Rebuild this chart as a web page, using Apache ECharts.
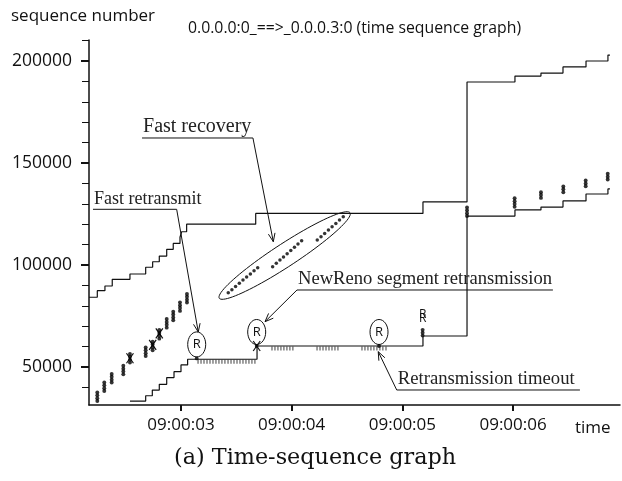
<!DOCTYPE html>
<html>
<head>
<meta charset="utf-8">
<script src="https://cdn.jsdelivr.net/npm/echarts@6/dist/echarts.min.js"></script>
<style>
  html, body { margin: 0; padding: 0; background: #fff; }
  #chart { width: 622px; height: 481px; }
</style>
</head>
<body>
<div id="chart"></div>
<script>
// Times are seconds after 09:00:00, sequence numbers in bytes.

// Advertised window edge (upper staircase)
const winTimes = [2.169, 2.244, 2.313, 2.379, 2.539, 2.681, 2.744, 2.804, 2.871, 2.930, 2.991, 3.006, 3.051, 3.675, 5.186, 5.584, 6.017, 6.252, 6.451, 6.659, 6.857, 6.875];
const winSeqs  = [84200, 87400, 89700, 93000, 95600, 98900, 101600, 104400, 107700, 110600, 113600, 116300, 120000, 125300, 130900, 189700, 192600, 194100, 197100, 200000, 202900, 202900];

// Cumulative ACK line (lower staircase)
const ackTimes = [2.539, 2.681, 2.741, 2.804, 2.871, 2.937, 3.000, 3.060, 3.687, 5.186, 5.584, 6.017, 6.252, 6.451, 6.659, 6.857, 6.875];
const ackSeqs  = [33300, 35900, 38700, 41500, 44800, 47700, 51000, 53800, 60300, 65200, 124000, 127000, 128400, 131400, 134800, 137300, 137300];

// Duplicate ACKs (tick marks under the ACK line)
const dupAckTimes = [3.154, 3.181, 3.208, 3.235, 3.262, 3.289, 3.316, 3.343, 3.370, 3.397, 3.425, 3.452, 3.479, 3.506, 3.533, 3.560, 3.587, 3.614, 3.641, 3.668,
                     3.822, 3.849, 3.876, 3.903, 3.930, 3.957, 3.984, 4.011,
                     4.229, 4.256, 4.283, 4.310, 4.337, 4.364, 4.391, 4.418,
                     4.635, 4.662, 4.689, 4.716, 4.743, 4.770, 4.797, 4.824, 4.852];
const dupAckSeqs  = [53800, 53800, 53800, 53800, 53800, 53800, 53800, 53800, 53800, 53800, 53800, 53800, 53800, 53800, 53800, 53800, 53800, 53800, 53800, 53800,
                     60300, 60300, 60300, 60300, 60300, 60300, 60300, 60300,
                     60300, 60300, 60300, 60300, 60300, 60300, 60300, 60300,
                     60300, 60300, 60300, 60300, 60300, 60300, 60300, 60300, 60300];

// Data segments sent (bursts)
const sentTimes = [2.244, 2.244, 2.244, 2.244,  2.307, 2.307, 2.307, 2.307,  2.374, 2.374, 2.374, 2.374,
                   2.479, 2.479, 2.479, 2.479,  2.539, 2.539, 2.539, 2.539,  2.681, 2.681, 2.681, 2.681,
                   2.744, 2.744, 2.744, 2.744,  2.804, 2.804, 2.804, 2.804,  2.871, 2.871, 2.871, 2.871,
                   2.930, 2.930, 2.930, 2.930,  2.991, 2.991, 2.991, 2.991,  3.054, 3.054, 3.054, 3.054,
                   5.183, 5.183, 5.183,
                   5.584, 5.584, 5.584, 5.584,  6.014, 6.014, 6.014, 6.014,
                   6.252, 6.252, 6.252,  6.454, 6.454, 6.454,  6.656, 6.656, 6.656,  6.855, 6.855, 6.855];
const sentSeqs  = [33300, 34700, 36100, 37500,  38200, 39600, 41000, 42400,  42400, 43800, 45200, 46600,
                   46400, 47800, 49200, 50600,  52200, 53600, 55000, 56400,  55400, 56800, 58200, 59600,
                   58200, 59600, 61000, 62400,  63900, 65300, 66700, 68100,  69300, 70700, 72100, 73500,
                   72900, 74300, 75700, 77100,  77500, 78900, 80300, 81700,  81600, 83000, 84400, 85800,
                   65400, 66800, 68200,
                   124000, 125400, 126800, 128200,  128500, 129900, 131300, 132700,
                   132900, 134300, 135700,  135700, 137100, 138500,  138600, 140000, 141400,  141900, 143300, 144700];

// New segments sent during fast recovery
const recoveryTimes = [3.427, 3.460, 3.493, 3.527, 3.560, 3.593, 3.627, 3.660, 3.693,
                       3.828, 3.861, 3.894, 3.926, 3.959, 3.992, 4.025, 4.057, 4.090,
                       4.231, 4.265, 4.298, 4.332, 4.365, 4.399, 4.432, 4.466];
const recoverySeqs  = [86400, 87900, 89500, 91000, 92600, 94100, 95600, 97200, 98700,
                       99200, 100800, 102400, 103900, 105500, 107100, 108700, 110300, 111900,
                       112300, 113900, 115500, 117200, 118800, 120400, 122100, 123700];
// Long axis of the ring drawn round the fast-recovery segments
const recoveryRing = [[3.346, 83700], [4.527, 125600]];

// Retransmitted segments marked with a ringed "R"
const retxTimes = [3.142, 3.684, 4.789];
const retxSeqs  = [54200, 60300, 60300];
// Two retransmissions of the same segment (double "R", no ring)
const retxPairTime = 5.183;
const retxPairSeq  = 66800;

// Cross marks
const crossTimes = [2.539, 2.744, 2.804, 3.684];
const crossSeqs  = [54300, 60800, 66500, 60300];

// Callouts: text, far end of underline, elbow, arrow tip
const noteTexts = ['Fast recovery', 'Fast retransmit', 'NewReno segment retransmission', 'Retransmission timeout'];
const noteEnds   = [[2.648, 162260], [2.205, 127300], [6.360, 87750], [6.604, 38730]];
const noteElbows = [[3.650, 162260], [2.961, 127300], [4.048, 87750], [4.949, 38730]];
const noteTips   = [[3.834, 111420], [3.156, 67160], [3.759, 72210], [4.782, 57500]];
const noteFontSizes = [20, 18, 18.6, 18.7];

// Axis ticks
const timeTicks = [3, 4, 5, 6];
const seqLabelTicks = [50000, 100000, 150000, 200000];
const seqMinorTicks = [40000, 50000, 60000, 70000, 80000, 90000, 100000, 110000, 120000, 130000, 140000, 150000, 160000, 170000, 180000, 190000, 200000, 210000];

const INK = '#111';
const DOT = '#000';
const SERIF = '"Liberation Serif", "Times New Roman", serif';
const SANS = '"Open Sans", "DejaVu Sans", sans-serif';

const pairs = (xs, ys) => xs.map((x, i) => [x, ys[i]]);

function arrowHead(tip, from, len, ang) {
  const dx = from[0] - tip[0], dy = from[1] - tip[1];
  const d = Math.hypot(dx, dy) || 1;
  const ux = dx / d, uy = dy / d;
  const rot = (a) => [ux * Math.cos(a) - uy * Math.sin(a), ux * Math.sin(a) + uy * Math.cos(a)];
  const l = rot(ang), r = rot(-ang);
  return [[tip[0] + l[0] * len, tip[1] + l[1] * len], tip, [tip[0] + r[0] * len, tip[1] + r[1] * len]];
}

const chart = echarts.init(document.getElementById('chart'), null, { renderer: 'canvas' });

const option = {
  animation: false,
  backgroundColor: '#fff',
  grid: { left: 89, top: 40, right: 2, bottom: 76, containLabel: false },
  xAxis: {
    type: 'value', min: 2.169, max: 6.966,
    axisLine: { lineStyle: { color: INK, width: 1.5 } },
    axisTick: { customValues: timeTicks, length: 6, lineStyle: { color: INK, width: 2 } },
    axisLabel: { customValues: timeTicks, color: INK, fontFamily: SANS, fontSize: 17, margin: 12,
                 formatter: (v) => '09:00:0' + Math.round(v) },
    splitLine: { show: false }
  },
  yAxis: [
    {
      type: 'value', min: 31370, max: 210300,
      axisLine: { lineStyle: { color: INK, width: 1.5 } },
      axisTick: { customValues: seqMinorTicks, length: 7, lineStyle: { color: INK, width: 1 } },
      axisLabel: { show: false },
      splitLine: { show: false }
    },
    {
      type: 'value', min: 31370, max: 210300, position: 'left', offset: 0,
      axisLine: { show: false },
      axisTick: { customValues: seqLabelTicks, length: 8, lineStyle: { color: INK, width: 2 } },
      axisLabel: { customValues: seqLabelTicks, color: INK, fontFamily: SANS, fontSize: 17.5, margin: 17,
                   formatter: (v) => String(Math.round(v)) },
      splitLine: { show: false }
    }
  ],
  graphic: [
    { type: 'text', left: 11, top: 8, style: { text: 'sequence number', font: '17px ' + SANS, fill: INK } },
    { type: 'text', left: 188, top: 20, style: { text: '0.0.0.0:0_==>_0.0.0.3:0 (time sequence graph)', font: '15.8px ' + SANS, fill: INK } },
    { type: 'text', left: 575, top: 420, style: { text: 'time', font: '17px ' + SANS, fill: INK } },
    { type: 'text', left: 174, top: 447, style: { text: '(a) Time-sequence graph', font: '22.3px "DejaVu Serif", serif', fill: INK } }
  ],
  series: [
    {
      name: 'window', type: 'line', step: 'end', data: pairs(winTimes, winSeqs),
      symbol: 'none', lineStyle: { color: INK, width: 1.2 }, silent: true
    },
    {
      name: 'ack', type: 'line', step: 'end', data: pairs(ackTimes, ackSeqs),
      symbol: 'none', lineStyle: { color: INK, width: 1.2 }, silent: true
    },
    {
      name: 'dupack', type: 'scatter', data: pairs(dupAckTimes, dupAckSeqs),
      symbol: 'rect', symbolSize: [1, 4], symbolOffset: [0, 2.5],
      itemStyle: { color: INK }, silent: true
    },
    {
      name: 'sent', type: 'scatter', data: pairs(sentTimes, sentSeqs),
      symbol: 'circle', symbolSize: 3.9, itemStyle: { color: DOT }, silent: true
    },
    {
      name: 'recovery', type: 'scatter', data: pairs(recoveryTimes, recoverySeqs),
      symbol: 'circle', symbolSize: 3.5, itemStyle: { color: DOT }, silent: true
    },
    {
      name: 'retx', type: 'scatter', data: pairs(retxTimes, retxSeqs),
      symbol: 'circle', symbolSize: 3.8, itemStyle: { color: DOT }, silent: true
    },
    {
      // ringed R labels above retransmitted segments
      name: 'retxRing', type: 'custom', silent: true,
      data: pairs(retxTimes, retxSeqs),
      renderItem: (params, api) => {
        const p = api.coord([api.value(0), api.value(1)]);
        return {
          type: 'group',
          children: [
            { type: 'ellipse', shape: { cx: p[0], cy: p[1] - 14, rx: 9, ry: 12.5 },
              style: { fill: 'none', stroke: INK, lineWidth: 1 } },
            { type: 'text', x: p[0], y: p[1] - 14,
              style: { text: 'R', font: '13px ' + SANS, fill: INK, align: 'center', verticalAlign: 'middle' } }
          ]
        };
      }
    },
    {
      name: 'retxPair', type: 'custom', silent: true,
      data: [[retxPairTime, retxPairSeq]],
      renderItem: (params, api) => {
        const p = api.coord([api.value(0), api.value(1)]);
        return {
          type: 'group',
          children: [
            { type: 'text', x: p[0], y: p[1] - 18,
              style: { text: 'R', font: '12px ' + SANS, fill: INK, align: 'center', verticalAlign: 'middle' } },
            { type: 'text', x: p[0], y: p[1] - 14,
              style: { text: 'R', font: '12px ' + SANS, fill: INK, align: 'center', verticalAlign: 'middle' } }
          ]
        };
      }
    },
    {
      name: 'cross', type: 'custom', silent: true,
      data: pairs(crossTimes, crossSeqs),
      renderItem: (params, api) => {
        const p = api.coord([api.value(0), api.value(1)]);
        const w = 3.5, h = 5;
        return {
          type: 'group',
          children: [
            { type: 'line', shape: { x1: p[0] - w, y1: p[1] - h, x2: p[0] + w, y2: p[1] + h }, style: { stroke: INK, lineWidth: 1.2 } },
            { type: 'line', shape: { x1: p[0] + w, y1: p[1] - h, x2: p[0] - w, y2: p[1] + h }, style: { stroke: INK, lineWidth: 1.2 } }
          ]
        };
      }
    },
    {
      // ring around the fast-recovery segments
      name: 'recoveryRing', type: 'custom', silent: true,
      data: [[recoveryRing[0][0], recoveryRing[0][1], recoveryRing[1][0], recoveryRing[1][1]]],
      renderItem: (params, api) => {
        const a = api.coord([api.value(0), api.value(1)]);
        const b = api.coord([api.value(2), api.value(3)]);
        const cx = (a[0] + b[0]) / 2, cy = (a[1] + b[1]) / 2;
        const dx = b[0] - a[0], dy = b[1] - a[1];
        const len = Math.hypot(dx, dy);
        const ux = dx / len, uy = dy / len;
        const ra = len / 2, rb = 11.5;
        const pts = [];
        for (let k = 0; k <= 90; k++) {
          const u = (k / 90) * Math.PI * 2;
          const c = Math.cos(u) * ra, s = Math.sin(u) * rb;
          pts.push([cx + c * ux - s * uy, cy + c * uy + s * ux]);
        }
        return { type: 'polyline', shape: { points: pts }, style: { fill: 'none', stroke: INK, lineWidth: 1 } };
      }
    },
    {
      // callouts with underlined text and open arrowheads
      name: 'notes', type: 'custom', silent: true,
      data: noteTips.map((t, i) => [t[0], t[1], i]),
      renderItem: (params, api) => {
        const i = api.value(2);
        const e = api.coord(noteEnds[i]);
        const b = api.coord(noteElbows[i]);
        const t = api.coord(noteTips[i]);
        const left = Math.min(e[0], b[0]);
        return {
          type: 'group',
          children: [
            { type: 'polyline', shape: { points: [e, b, t] }, style: { fill: 'none', stroke: INK, lineWidth: 1 } },
            { type: 'polyline', shape: { points: arrowHead(t, b, 9, 0.38) }, style: { fill: 'none', stroke: INK, lineWidth: 1 } },
            { type: 'text', x: left + 1, y: e[1] - 1,
              style: { text: noteTexts[i], font: noteFontSizes[i] + 'px ' + SERIF, fill: '#222', align: 'left', verticalAlign: 'bottom' } }
          ]
        };
      }
    }
  ]
};

chart.setOption(option);
</script>
</body>
</html>
